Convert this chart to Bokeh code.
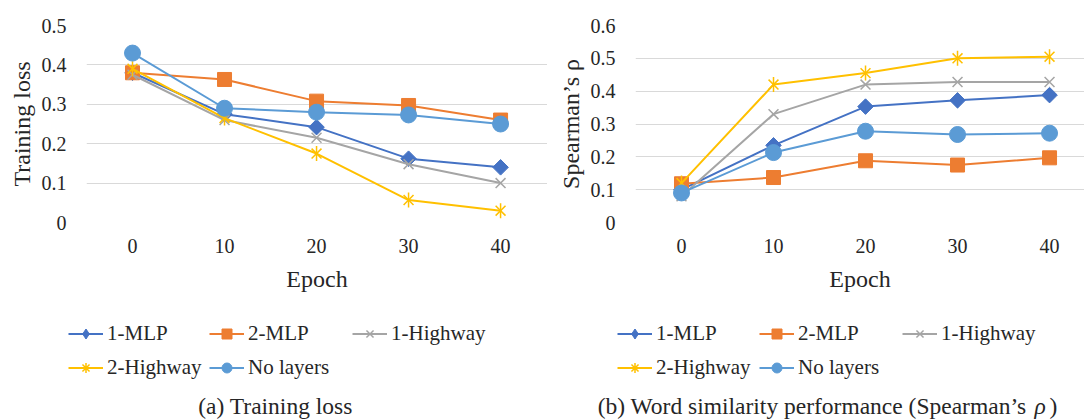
import math
from bokeh.plotting import figure
from bokeh.models import Range1d, FixedTicker, Legend, LegendItem, Label
from bokeh.layouts import row, column
from bokeh.embed import file_html
from bokeh.resources import INLINE

# ---------------- data ----------------
epochs = [0, 10, 20, 30, 40]
series_names = ["1-MLP", "2-MLP", "1-Highway", "2-Highway", "No layers"]

loss_1mlp = [0.380, 0.275, 0.242, 0.162, 0.140]
loss_2mlp = [0.380, 0.363, 0.308, 0.297, 0.260]
loss_1hw = [0.375, 0.260, 0.215, 0.148, 0.100]
loss_2hw = [0.390, 0.265, 0.175, 0.057, 0.030]
loss_none = [0.430, 0.290, 0.280, 0.273, 0.250]

rho_1mlp = [0.100, 0.235, 0.353, 0.372, 0.388]
rho_2mlp = [0.118, 0.137, 0.188, 0.175, 0.197]
rho_1hw = [0.080, 0.330, 0.420, 0.428, 0.428]
rho_2hw = [0.120, 0.420, 0.455, 0.500, 0.505]
rho_none = [0.090, 0.213, 0.278, 0.268, 0.272]

loss_ticks = [0, 0.1, 0.2, 0.3, 0.4, 0.5]
rho_ticks = [0, 0.1, 0.2, 0.3, 0.4, 0.5, 0.6]

caption_a = "(a) Training loss"
caption_b_main = "(b) Word similarity performance (Spearman\u2019s"
caption_b_sym = "\u03c1"
caption_b_end = ")"

colors = ["#4472C4", "#ED7D31", "#A5A5A5", "#FFC000", "#5B9BD5"]
FONT = "Liberation Serif"
TXT = "#262626"


def add_series(p, name, col, xs, ys, legend_proxy=False):
    rs = [p.line(xs, ys, line_color=col, line_width=2)]
    if name == "1-MLP":
        if legend_proxy:
            rs.append(p.scatter(xs, ys, marker="diamond", size=11, fill_color=col, line_color=col))
        else:
            rs.append(p.scatter(xs, ys, marker="square", size=11, angle=math.pi / 4,
                                fill_color=col, line_color=col))
    elif name == "2-MLP":
        rs.append(p.scatter(xs, ys, marker="square", size=14, fill_color=col, line_color=col))
    elif name == "1-Highway":
        rs.append(p.scatter(xs, ys, marker="x", size=14, line_color=col, line_width=1.5))
    elif name == "2-Highway":
        if legend_proxy:
            rs.append(p.scatter(xs, ys, marker="asterisk", size=14, line_color=col, line_width=1.5))
        else:
            rs.append(p.scatter(xs, ys, marker="x", size=14, line_color=col, line_width=1.5))
            rs.append(p.scatter(xs, ys, marker="dash", size=15, angle=math.pi / 2,
                                line_color=col, line_width=1.5))
    else:
        rs.append(p.scatter(xs, ys, marker="circle", size=16, fill_color=col, line_color=col))
    return rs


def make_chart(width, border_left, x_end, y_end, yticks, ylabel, values):
    p = figure(width=width, height=300, output_backend="svg", toolbar_location=None,
               x_range=Range1d(-5, x_end), y_range=Range1d(0, y_end),
               min_border_left=border_left, min_border_right=0,
               min_border_top=25, min_border_bottom=78)
    p.outline_line_color = None
    p.background_fill_color = "white"
    p.border_fill_color = "white"

    p.xaxis.ticker = FixedTicker(ticks=epochs)
    p.yaxis.ticker = FixedTicker(ticks=yticks)
    p.yaxis.major_label_overrides = {0: "0"}
    for ax in (p.xaxis[0], p.yaxis[0]):
        ax.axis_line_color = None
        ax.major_tick_line_color = None
        ax.minor_tick_line_color = None
        ax.major_tick_out = 0
        ax.major_tick_in = 0
        ax.major_label_text_font = FONT
        ax.major_label_text_font_size = "20px"
        ax.major_label_text_color = TXT
        ax.axis_label_text_font = FONT
        ax.axis_label_text_font_size = "24px"
        ax.axis_label_text_font_style = "normal"
        ax.axis_label_text_color = TXT
    p.yaxis.major_label_standoff = 20
    p.yaxis.axis_label_standoff = 4
    p.xaxis.major_label_standoff = 16
    p.xaxis.axis_label_standoff = 10
    p.xaxis.axis_label = "Epoch"
    p.yaxis.axis_label = ylabel

    p.xgrid.grid_line_color = None
    p.ygrid.grid_line_color = "#D9D9D9"
    p.ygrid.grid_line_width = 1

    for name, col, vals in zip(series_names, colors, values):
        add_series(p, name, col, epochs, vals)
    return p


def make_legend_panel(width, col_x, values):
    # legend proxies: same series, drawn outside this panel's visible range
    q = figure(width=width, height=119, output_backend="svg", toolbar_location=None,
               x_range=Range1d(-1000, -999), y_range=Range1d(-1000, -999),
               x_axis_location=None, y_axis_location=None,
               min_border_left=0, min_border_right=0, min_border_top=0, min_border_bottom=0)
    q.outline_line_color = None
    q.grid.grid_line_color = None
    q.background_fill_color = "white"
    q.border_fill_color = "white"
    items = {}
    for name, col, vals in zip(series_names, colors, values):
        items[name] = add_series(q, name, col, epochs, vals, legend_proxy=True)
    columns = [(["1-MLP", "2-Highway"], col_x[0], 39.5),
               (["2-MLP", "No layers"], col_x[1], 39.5),
               (["1-Highway"], col_x[2], 73.5)]
    for names, vx, vy in columns:
        leg = Legend(items=[LegendItem(label=n, renderers=items[n]) for n in names],
                     location=(vx, vy), orientation="vertical",
                     glyph_width=35, glyph_height=25, label_height=25,
                     label_standoff=4, spacing=9, padding=0, margin=0,
                     border_line_color=None, background_fill_alpha=0,
                     label_text_font=FONT, label_text_font_size="21px",
                     label_text_color=TXT)
        q.add_layout(leg, "center")
    return q


def caption(q, x, text, align, style="normal"):
    q.add_layout(Label(x=x, y=14, x_units="screen", y_units="screen", text=text,
                       text_align=align, text_baseline="alphabetic",
                       text_font=FONT, text_font_size="23.5px", text_font_style=style,
                       text_color=TXT))


loss_values = [loss_1mlp, loss_2mlp, loss_1hw, loss_2hw, loss_none]
rho_values = [rho_1mlp, rho_2mlp, rho_1hw, rho_2hw, rho_none]

p1 = make_chart(547, 86, 45.1, 0.5, loss_ticks, "Training loss", loss_values)
p2 = make_chart(537, 88, 43.8, 0.6, rho_ticks, "Spearman\u2019s \u03c1", rho_values)

q1 = make_legend_panel(547, [68, 209, 352], loss_values)
caption(q1, 275, caption_a, "center")
q2 = make_legend_panel(537, [70, 212, 355], rho_values)
caption(q2, 479, caption_b_main, "right")
caption(q2, 487, caption_b_sym, "left", "italic")
caption(q2, 502, caption_b_end, "left")

layout = column(row(p1, p2), row(q1, q2))
open("out.html", "w").write(file_html(layout, INLINE))
